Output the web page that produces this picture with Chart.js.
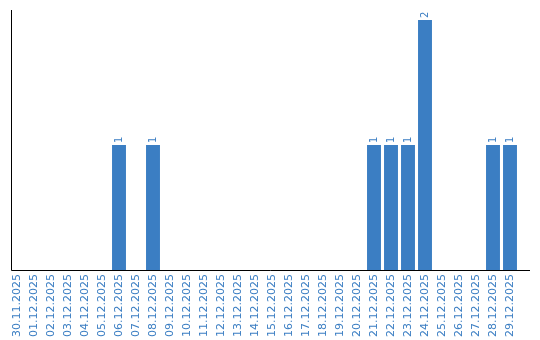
<!DOCTYPE html>
<html><head><meta charset="utf-8">
<script src="https://cdn.jsdelivr.net/npm/chart.js@4"></script>
<style>html,body{margin:0;padding:0;background:#fff}#w{width:540px;height:340px}</style>
</head><body><div id="w"><canvas id="c"></canvas></div>
<script>
const categories = ["30.11.2025","01.12.2025","02.12.2025","03.12.2025","04.12.2025","05.12.2025","06.12.2025","07.12.2025","08.12.2025","09.12.2025","10.12.2025","11.12.2025","12.12.2025","13.12.2025","14.12.2025","15.12.2025","16.12.2025","17.12.2025","18.12.2025","19.12.2025","20.12.2025","21.12.2025","22.12.2025","23.12.2025","24.12.2025","25.12.2025","26.12.2025","27.12.2025","28.12.2025","29.12.2025"];
const values = [0,0,0,0,0,0,1,0,1,0,0,0,0,0,0,0,0,0,0,0,0,1,1,1,2,0,0,0,1,1];
const BLUE = "#3b7ec3";
const FONT = "DejaVu Sans";

const axesPlugin = {
  id: "axesLines",
  afterDatasetsDraw(chart) {
    const ctx = chart.ctx, a = chart.chartArea;
    ctx.save();
    ctx.strokeStyle = "#000"; ctx.lineWidth = 1;
    ctx.beginPath();
    ctx.moveTo(11.5, a.top); ctx.lineTo(11.5, a.bottom + 0.5);
    ctx.lineTo(530, a.bottom + 0.5);
    ctx.stroke();
    // value labels
    const meta = chart.getDatasetMeta(0);
    ctx.fillStyle = BLUE;
    ctx.font = "10px " + FONT;
    ctx.textAlign = "left"; ctx.textBaseline = "middle";
    meta.data.forEach((bar, i) => {
      const v = values[i];
      if (!v) return;
      ctx.save();
      ctx.translate(bar.x, bar.y - 2);
      ctx.rotate(-Math.PI / 2);
      ctx.fillText(String(v), 0, 0);
      ctx.restore();
    });
    ctx.restore();
  }
};

new Chart(document.getElementById("c"), {
  type: "bar",
  data: { labels: categories, datasets: [{ data: values, backgroundColor: BLUE, borderWidth: 0, barPercentage: 0.82, categoryPercentage: 1 }] },
  options: {
    responsive: true, maintainAspectRatio: false, animation: false,
    layout: { padding: { left: 8.5, right: 21.5, top: 10, bottom: 0 } },
    plugins: { legend: { display: false }, tooltip: { enabled: false } },
    scales: {
      x: {
        offset: true,
        grid: { display: false, drawTicks: false },
        border: { display: false },
        ticks: { color: BLUE, font: { family: FONT, size: 11 }, maxRotation: 90, minRotation: 90, autoSkip: false, padding: 4 },
        afterFit(s) { s.height = 70; }
      },
      y: { display: false, min: 0, max: 2.08 }
    }
  },
  plugins: [axesPlugin]
});
</script></body></html>
